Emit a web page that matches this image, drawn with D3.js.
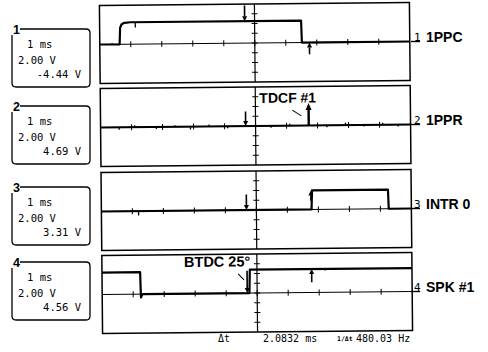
<!DOCTYPE html>
<html>
<head>
<meta charset="utf-8">
<script src="https://cdn.jsdelivr.net/npm/d3@7"></script>
<style>
  html, body { margin: 0; padding: 0; background: #fff; }
  svg { display: block; }
</style>
</head>
<body>
<div id="scope"></div>
<script>
// channel setup
const channelNums = ["1", "2", "3", "4"];
const channelNames = ["1PPC", "1PPR", "INTR 0", "SPK #1"];
const timeBase = ["1 ms", "1 ms", "1 ms", "1 ms"];
const voltScale = ["2.00 V", "2.00 V", "2.00 V", "2.00 V"];
const offsetVolts = ["-4.44 V", "4.69 V", "3.31 V", "4.56 V"];

// traces: [time in ms, level in divisions above the channel ground line]
const trace1 = [[-5, 0], [-4.36, 0], [-4.34, 1.7], [-4.29, 2.05], [-4.2, 2.2], [-4.0, 2.25], [1.5, 2.25], [1.52, 0], [5, 0]];
const trace2 = [[-5, 0], [5, 0]];
const trace3 = [[-5, 0], [1.78, 0], [1.8, 1.95], [4.25, 1.95], [4.27, 0], [5, 0]];
const trace4 = [[-5, 2.25], [-3.77, 2.25], [-3.75, -0.35], [-3.7, 0], [-0.25, 0], [-0.23, 2.4], [5, 2.4]];

// little glitches on the traces: [time, from level, to level]
const glitch1 = [[-3.85, 2.25, 1.7], [-4.6, 0, 0.15]];
const glitch2 = [[-4.4, 0, -0.25], [-3.9, 0, 0.2], [-3.2, 0, -0.2], [-2.6, 0, 0.15], [-2.1, 0, -0.3],
                 [-1.5, 0, 0.2], [-0.9, 0, -0.2], [0.5, 0, -0.2], [1.1, 0, 0.2], [2.3, 0, -0.2],
                 [2.9, 0, 0.25], [3.5, 0, -0.15], [4.1, 0, 0.2], [4.6, 0, -0.2]];
const glitch3 = [[-3.8, 0, -0.45]];
const glitch4 = [[2.2, 2.4, 2.25]];

// cursors
const cursorA = -0.32;      // ms
const deltaT = 2.0832;      // ms
const deltaText = "2.0832 ms";
const freqText = "480.03 Hz";
// cursor arrows, [tip, tail] in divisions
const downArrows = [[2.25, 3.85], [0, 1.5], [0, 1.6], [0, 2.3]];
const upArrows = [[0, -1.2], [2.3, 0], [1.95, 0.9], [2.4, 1.05]];

const traces = [trace1, trace2, trace3, trace4];
const glitches = [glitch1, glitch2, glitch3, glitch4];

const width = 488, height = 352;
const panelLeft = 101, panelRight = 411, panelH = 78;
const panelTops = [4, 87, 171, 254];
const boxTops = [29, 106, 187, 262];

const svg = d3.select("#scope")
  .append("svg")
  .attr("width", width)
  .attr("height", height);

const monoFont = "'DejaVu Sans Mono', 'Liberation Mono', monospace";
const boldFont = "'Liberation Sans', Arial, sans-serif";

const x = d3.scaleLinear().domain([-5, 5]).range([panelLeft, panelRight]);

// the scan is slightly tilted, so the whole screen is turned a hair
const screen = svg.append("g")
  .attr("transform", "rotate(-0.55," + (panelLeft + panelRight) / 2 + ",170)");

function arrow(g, xp, yTip, yTail, w, headW, headL) {
  const dir = yTip > yTail ? 1 : -1;
  g.append("line")
    .attr("x1", xp).attr("x2", xp)
    .attr("y1", yTail).attr("y2", yTip - dir * headL)
    .attr("stroke", "#000").attr("stroke-width", w);
  g.append("path")
    .attr("d", "M" + (xp - headW / 2) + "," + (yTip - dir * headL) +
               "L" + (xp + headW / 2) + "," + (yTip - dir * headL) +
               "L" + xp + "," + yTip + "Z")
    .attr("fill", "#000");
}

channelNums.forEach((num, i) => {
  const top = panelTops[i];
  const y = d3.scaleLinear().domain([-4, 4]).range([top + panelH, top]);
  const g = screen.append("g");

  // frame
  g.append("rect")
    .attr("x", panelLeft).attr("y", top)
    .attr("width", panelRight - panelLeft).attr("height", panelH)
    .attr("fill", "none").attr("stroke", "#000").attr("stroke-width", 1.5);

  // centre cross with its division ticks
  g.append("line")
    .attr("x1", panelLeft).attr("x2", panelRight)
    .attr("y1", y(0)).attr("y2", y(0))
    .attr("stroke", "#000").attr("stroke-width", 1);
  g.append("line")
    .attr("x1", x(0)).attr("x2", x(0))
    .attr("y1", top).attr("y2", top + panelH)
    .attr("stroke", "#000").attr("stroke-width", 1.2);
  g.selectAll(".xt")
    .data(d3.range(-4, 5))
    .enter().append("line")
    .attr("x1", d => x(d)).attr("x2", d => x(d))
    .attr("y1", y(0) - 3).attr("y2", y(0) + 3)
    .attr("stroke", "#000").attr("stroke-width", 1);
  g.selectAll(".yt")
    .data(d3.range(-3, 4))
    .enter().append("line")
    .attr("x1", x(0) - 3).attr("x2", x(0) + 3)
    .attr("y1", d => y(d)).attr("y2", d => y(d))
    .attr("stroke", "#000").attr("stroke-width", 1);

  // trace
  const line = d3.line().x(d => x(d[0])).y(d => y(d[1]));
  g.append("path")
    .attr("d", line(traces[i]))
    .attr("fill", "none").attr("stroke", "#000")
    .attr("stroke-width", 2.2).attr("stroke-linejoin", "round");

  g.selectAll(".gl")
    .data(glitches[i])
    .enter().append("line")
    .attr("x1", d => x(d[0])).attr("x2", d => x(d[0]))
    .attr("y1", d => y(d[1])).attr("y2", d => y(d[2]))
    .attr("stroke", "#000").attr("stroke-width", 1.3);

  // cursor arrows
  arrow(g, x(cursorA), y(downArrows[i][0]), y(downArrows[i][1]), 1.6, 5, 5);
  if (i === 1) {
    arrow(g, x(cursorA + deltaT) - 1.5, y(upArrows[i][0]), y(upArrows[i][1]), 2.4, 6, 7);
  } else {
    arrow(g, x(cursorA + deltaT), y(upArrows[i][0]), y(upArrows[i][1]), 1.6, 5, 5);
  }

  // annotations
  if (i === 1) {
    g.append("text")
      .attr("x", x(0.13)).attr("y", y(2.36))
      .attr("font-family", boldFont).attr("font-weight", "bold").attr("font-size", 14)
      .text("TDCF #1");
    g.append("line")
      .attr("x1", x(1.19)).attr("y1", y(1.6))
      .attr("x2", x(1.48)).attr("y2", y(1.0))
      .attr("stroke", "#000").attr("stroke-width", 1);
  }
  if (i === 3) {
    g.append("text")
      .attr("x", x(-2.35)).attr("y", y(2.74))
      .attr("font-family", boldFont).attr("font-weight", "bold").attr("font-size", 14.5)
      .text("BTDC 25°");
    g.append("line")
      .attr("x1", x(-0.61)).attr("y1", y(1.97))
      .attr("x2", x(-0.42)).attr("y2", y(1.35))
      .attr("stroke", "#000").attr("stroke-width", 1);
  }

  // ground marker and channel name on the right
  const yr = y(0) - 1.5;
  svg.append("line")
    .attr("x1", panelRight).attr("x2", panelRight + 9)
    .attr("y1", yr).attr("y2", yr)
    .attr("stroke", "#000").attr("stroke-width", 1.4);
  svg.append("text")
    .attr("x", panelRight + 3).attr("y", yr - 1)
    .attr("font-family", monoFont).attr("font-size", 11)
    .text(num);
  svg.append("text")
    .attr("x", 426).attr("y", yr)
    .attr("font-family", boldFont).attr("font-weight", "bold").attr("font-size", 14)
    .text(channelNames[i]);

  // settings box on the left
  const bt = boxTops[i], bl = 12, br = 90, bh = 58, r = 4;
  svg.append("path")
    .attr("d", "M20," + bt + "L" + (br - r) + "," + bt +
               "Q" + br + "," + bt + " " + br + "," + (bt + r) +
               "L" + br + "," + (bt + bh - r) +
               "Q" + br + "," + (bt + bh) + " " + (br - r) + "," + (bt + bh) +
               "L" + (bl + r) + "," + (bt + bh) +
               "Q" + bl + "," + (bt + bh) + " " + bl + "," + (bt + bh - r) +
               "L" + bl + "," + (bt + 6))
    .attr("fill", "none").attr("stroke", "#000").attr("stroke-width", 1.3);
  svg.append("text")
    .attr("x", 13).attr("y", bt + 5)
    .attr("font-family", boldFont).attr("font-weight", "bold").attr("font-size", 12.5)
    .text(num);
  svg.append("text")
    .attr("x", 27).attr("y", bt + 19)
    .attr("font-family", monoFont).attr("font-size", 10.5)
    .text(timeBase[i]);
  svg.append("text")
    .attr("x", 18).attr("y", bt + 35)
    .attr("font-family", monoFont).attr("font-size", 10.5)
    .text(voltScale[i]);
  svg.append("text")
    .attr("x", 81).attr("y", bt + 49)
    .attr("text-anchor", "end")
    .attr("font-family", monoFont).attr("font-size", 10.5)
    .text(offsetVolts[i]);
});

// cursor readout along the bottom
const readY = 342;
svg.append("text")
  .attr("x", 218).attr("y", readY)
  .attr("font-family", monoFont).attr("font-size", 10)
  .text("Δt");
svg.append("text")
  .attr("x", 263).attr("y", readY)
  .attr("font-family", monoFont).attr("font-size", 10)
  .text(deltaText);
svg.append("text")
  .attr("x", 337).attr("y", readY - 1)
  .attr("font-family", monoFont).attr("font-size", 6.5)
  .attr("font-weight", "bold")
  .text("1/Δt");
svg.append("text")
  .attr("x", 356).attr("y", readY)
  .attr("font-family", monoFont).attr("font-size", 10)
  .text(freqText);
</script>
</body>
</html>
